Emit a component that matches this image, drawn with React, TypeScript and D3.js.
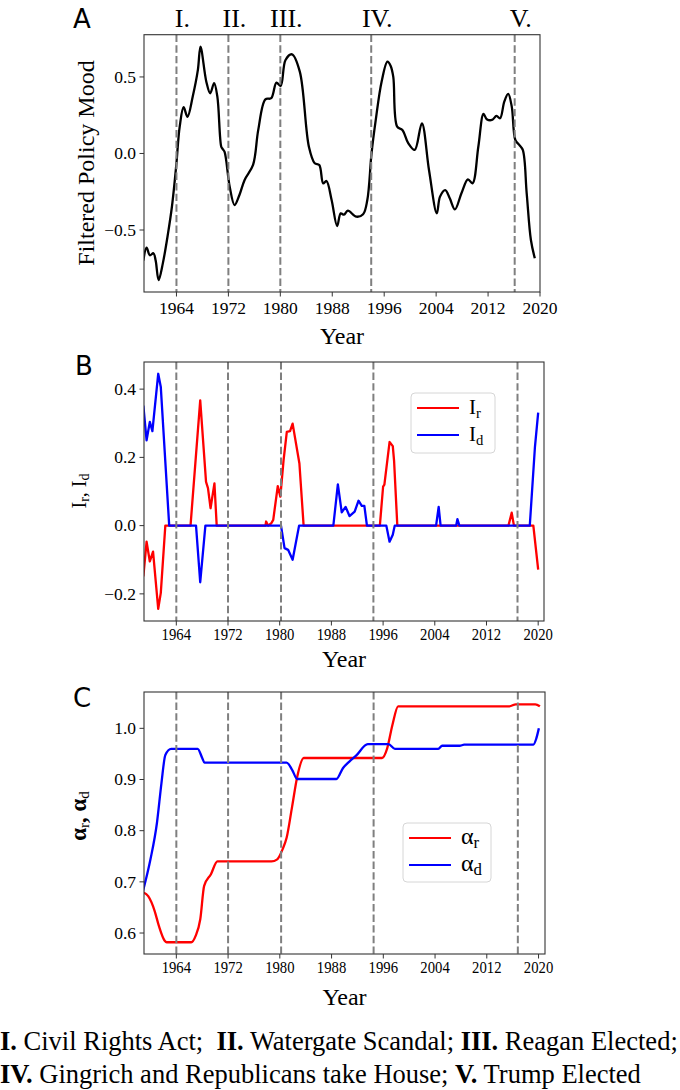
import React from 'react';
import * as d3 from 'd3';

// Panel A: filtered policy mood  [year, value]
const moodData: [number, number][] = [
  [1958.9, -0.70], [1959.4, -0.615], [1959.9, -0.665], [1960.45, -0.652], [1960.8, -0.70],
  [1961.25, -0.827], [1961.9, -0.718], [1962.7, -0.522], [1963.3, -0.348], [1963.95, -0.086],
  [1964.5, 0.175], [1965.1, 0.302], [1965.7, 0.24], [1966.5, 0.371], [1967.3, 0.546],
  [1967.7, 0.698], [1968.6, 0.469], [1969.2, 0.393], [1969.8, 0.459], [1970.3, 0.371],
  [1970.9, 0.044], [1971.1, 0.03], [1971.4, 0.012], [1972.2, -0.217], [1972.95, -0.337],
  [1973.7, -0.271], [1974.5, -0.173], [1975.8, -0.075], [1976.6, 0.154], [1977.7, 0.354],
  [1978.6, 0.361], [1979.4, 0.463], [1980.05, 0.441], [1980.8, 0.611], [1981.8, 0.648],
  [1983.0, 0.535], [1984.4, 0.044], [1985.3, -0.064], [1986.0, -0.075], [1986.6, -0.195],
  [1987.1, -0.18], [1987.9, -0.304], [1988.75, -0.474], [1989.3, -0.391], [1989.8, -0.40],
  [1990.4, -0.374], [1991.7, -0.413], [1992.75, -0.397], [1993.4, -0.304], [1994.05, 0.0],
  [1994.7, 0.219], [1995.6, 0.469], [1996.5, 0.60], [1997.0, 0.572], [1997.4, 0.50],
  [1998.0, 0.175], [1998.8, 0.154], [1999.7, 0.067], [2000.7, 0.023], [2001.8, 0.197],
  [2002.9, -0.108], [2004.1, -0.391], [2004.6, -0.282], [2005.4, -0.239], [2006.1, -0.293],
  [2006.9, -0.365], [2007.9, -0.26], [2008.9, -0.169], [2009.6, -0.195], [2010.5, 0.044],
  [2011.3, 0.258], [2011.8, 0.224], [2012.6, 0.219], [2013.3, 0.245], [2013.85, 0.23],
  [2014.5, 0.339], [2015.1, 0.389], [2015.65, 0.306], [2016.2, 0.088], [2016.8, 0.056],
  [2017.35, 0.023], [2017.95, -0.26], [2018.6, -0.565], [2019.2, -0.685],
];

// Panel B: I_r (red) and I_d (blue)
const irData: [number, number][] = [
  [1958.9, -0.149], [1959.4, -0.047], [1959.9, -0.105], [1960.4, -0.076], [1961.2, -0.244],
  [1961.6, -0.197], [1962.3, 0], [1966.2, 0], [1967.7, 0.367], [1968.6, 0.128],
  [1968.9, 0.11], [1969.3, 0.051], [1969.9, 0.124], [1970.25, 0], [1977.8, 0],
  [1977.9, 0.012], [1978.2, 0], [1978.7, 0.007], [1979.0, 0.017], [1979.7, 0.116],
  [1980.1, 0.085], [1980.6, 0.192], [1981.1, 0.275], [1981.6, 0.277], [1982.0, 0.299],
  [1983.05, 0.182], [1983.7, 0], [1995.5, 0], [1996.0, 0.114], [1996.2, 0.12],
  [1997.0, 0.245], [1997.5, 0.233], [1997.7, 0.19], [1998.2, 0], [2015.4, 0],
  [2015.9, 0.038], [2016.25, 0], [2019.25, 0], [2020.0, -0.129],
];
const idData: [number, number][] = [
  [1958.9, 0.352], [1959.4, 0.25], [1959.9, 0.304], [1960.3, 0.277], [1961.2, 0.445],
  [1961.6, 0.406], [1962.9, 0], [1967.05, 0], [1967.7, -0.166], [1968.5, 0],
  [1980.2, 0], [1980.75, -0.066], [1981.3, -0.071], [1982.0, -0.10], [1983.0, 0],
  [1988.3, 0], [1989.0, 0.121], [1989.6, 0.039], [1990.2, 0.055], [1990.8, 0.028],
  [1991.6, 0.041], [1992.2, 0.073], [1992.7, 0.058], [1993.1, 0.058], [1993.5, 0],
  [1996.5, 0], [1997.0, -0.047], [1997.5, -0.027], [1997.8, 0], [2004.2, 0],
  [2004.6, 0.055], [2004.9, 0], [2007.3, 0], [2007.5, 0.019], [2007.8, 0],
  [2018.7, 0], [2019.5, 0.231], [2020.0, 0.331],
];

// Panel C: alpha_r (red) and alpha_d (blue)
const arData: [number, number][] = [
  [1958.8, 0.68], [1959.65, 0.672], [1960.65, 0.643], [1961.3, 0.614], [1962.2, 0.585],
  [1962.5, 0.582], [1966.3, 0.582], [1967.0, 0.595], [1967.7, 0.627], [1968.3, 0.692],
  [1969.35, 0.715], [1970.35, 0.74], [1978.7, 0.74], [1979.6, 0.744], [1980.4, 0.763],
  [1981.05, 0.786], [1981.9, 0.847], [1982.7, 0.906], [1983.7, 0.942], [1995.8, 0.942],
  [1996.6, 0.961], [1997.4, 1.006], [1998.3, 1.043], [2015.5, 1.043], [2016.5, 1.047],
  [2019.5, 1.047], [2020.2, 1.043],
];
const adData: [number, number][] = [
  [1958.8, 0.68], [1960.0, 0.744], [1961.0, 0.815], [1961.7, 0.893], [1962.3, 0.948],
  [1963.2, 0.96], [1967.3, 0.96], [1968.0, 0.942], [1968.35, 0.933], [1981.05, 0.933],
  [1981.9, 0.919], [1982.7, 0.901], [1988.75, 0.901], [1989.75, 0.922], [1990.75, 0.935],
  [1991.75, 0.946], [1993.6, 0.969], [1996.8, 0.969], [1997.8, 0.96], [2004.5, 0.96],
  [2005.1, 0.966], [2007.8, 0.966], [2008.5, 0.968], [2019.2, 0.968], [2019.65, 0.98],
  [2020.05, 1.0],
];

const xTicks = [1964, 1972, 1980, 1988, 1996, 2004, 2012, 2020];
const eventLabels = ['I.', 'II.', 'III.', 'IV.', 'V.'];
const eventYearsA = [1964, 1972, 1980, 1994, 2016.1];
const eventYearsBC = [1964, 1972, 1980.2, 1994.5, 2016.8];
const yTicksA = [-0.5, 0, 0.5];
const yTicksB = [-0.2, 0, 0.2, 0.4];
const yTicksC = [0.6, 0.7, 0.8, 0.9, 1.0];

const SERIF = '"Liberation Serif", "Times New Roman", serif';
const SANS = '"DejaVu Sans", sans-serif';

const fmtTick = (v: number) => {
  const s = d3.format('.1f')(v);
  return s.startsWith('-') ? '\u2212 ' + s.slice(1) : s;
};

interface Series { data: [number, number][]; color: string; curve: d3.CurveFactory; }

interface PanelProps {
  left: number; right: number; top: number; bottom: number;
  xDomain: [number, number]; yDomain: [number, number];
  yTicks: number[]; events: number[]; series: Series[];
  condense: number; tickBase: number; titleBase: number;
}

function Panel(p: PanelProps) {
  const x = d3.scaleLinear().domain(p.xDomain).range([p.left, p.right]);
  const y = d3.scaleLinear().domain(p.yDomain).range([p.bottom, p.top]);
  const clipId = `clip-${Math.round(p.top)}`;
  return (
    <g>
      <defs>
        <clipPath id={clipId}>
          <rect x={p.left} y={p.top} width={p.right - p.left} height={p.bottom - p.top} />
        </clipPath>
      </defs>
      <g clipPath={`url(#${clipId})`}>
        {p.series.map((s, i) => {
          const line = d3.line<[number, number]>().x(d => x(d[0])).y(d => y(d[1])).curve(s.curve);
          return <path key={i} d={line(s.data) || ''} fill="none" stroke={s.color} strokeWidth={2.3} strokeLinejoin="round" />;
        })}
      </g>
      {p.events.map((e, i) => (
        <line key={i} x1={x(e)} x2={x(e)} y1={p.top} y2={p.bottom}
          stroke="#7f7f7f" strokeWidth={2} strokeDasharray="7.4,3.2" />
      ))}
      <rect x={p.left} y={p.top} width={p.right - p.left} height={p.bottom - p.top}
        fill="none" stroke="#333" strokeWidth={1.1} />
      {xTicks.map(t => (
        <g key={t}>
          <line x1={x(t)} x2={x(t)} y1={p.bottom} y2={p.bottom + 4.5} stroke="#333" strokeWidth={1} />
          <text transform={`translate(${x(t)},${p.bottom + p.tickBase}) scale(${p.condense},1)`}
            textAnchor="middle" style={{ fontFamily: SERIF }} fontSize={17.5} fill="#000">{t}</text>
        </g>
      ))}
      {p.yTicks.map(t => (
        <g key={t}>
          <line x1={p.left - 4.5} x2={p.left} y1={y(t)} y2={y(t)} stroke="#333" strokeWidth={1} />
          <text x={p.left - 8} y={y(t)} dy="0.33em" textAnchor="end"
            style={{ fontFamily: SERIF }} fontSize={17.5} fill="#000">{fmtTick(t)}</text>
        </g>
      ))}
      <text x={(p.left + p.right) / 2} y={p.bottom + p.titleBase} textAnchor="middle"
        style={{ fontFamily: SERIF }} fontSize={24} fill="#000">Year</text>
    </g>
  );
}

function Legend({ x0, y0, w, h, labels, sym, size }: { x0: number; y0: number; w: number; h: number; labels: string[]; sym: string; size: number }) {
  const colors = ['#ff0000', '#0000ff'];
  return (
    <g>
      <rect x={x0} y={y0} width={w} height={h} rx={4} fill="#fff" fillOpacity={0.8} stroke="#d6d6d6" strokeWidth={1} />
      {labels.map((l, i) => {
        const ly = y0 + 15 + i * 27;
        return (
          <g key={l}>
            <line x1={x0 + 6} x2={x0 + 48} y1={ly} y2={ly} stroke={colors[i]} strokeWidth={2.2} />
            <text x={x0 + 58} y={ly + 6} style={{ fontFamily: SERIF }} fontSize={size} fill="#000">
              {sym}<tspan fontSize={size * 0.7} dy={4}>{l}</tspan>
            </text>
          </g>
        );
      })}
    </g>
  );
}

export default function App() {
  const xA = d3.scaleLinear().domain([1959, 2020]).range([144, 540]);
  return (
    <div style={{ position: 'absolute', left: 0, top: 0 }}>
      <svg width={680} height={1090} style={{ display: 'block', background: '#fff' }}>
        {/* Panel A */}
        <text x={73} y={28} style={{ fontFamily: SANS }} fontSize={26} fill="#000">A</text>
        {eventLabels.map((l, i) => (
          <text key={l} x={xA(eventYearsA[i]) + 6} y={27} textAnchor="middle"
            style={{ fontFamily: SERIF }} fontSize={26} fill="#000">{l}</text>
        ))}
        <Panel left={144} right={540} top={34.7} bottom={292}
          xDomain={[1959, 2020]} yDomain={[-0.905, 0.776]} yTicks={yTicksA}
          events={eventYearsA} condense={1} tickBase={22} titleBase={52}
          series={[{ data: moodData, color: '#000', curve: d3.curveCatmullRom.alpha(0.5) }]} />
        <text transform="translate(94,163) rotate(-90)" textAnchor="middle"
          style={{ fontFamily: SERIF }} fontSize={24} fill="#000">Filtered Policy Mood</text>

        {/* Panel B */}
        <text x={75} y={375} style={{ fontFamily: SANS }} fontSize={26} fill="#000">B</text>
        <Panel left={144} right={544} top={362} bottom={621}
          xDomain={[1959, 2020.9]} yDomain={[-0.2795, 0.4795]} yTicks={yTicksB}
          events={eventYearsBC} condense={0.84} tickBase={19} titleBase={46}
          series={[
            { data: irData, color: '#ff0000', curve: d3.curveLinear },
            { data: idData, color: '#0000ff', curve: d3.curveLinear },
          ]} />
        <text transform="translate(86,491) rotate(-90)" textAnchor="middle"
          style={{ fontFamily: SERIF }} fontSize={20} fill="#000">
          I<tspan fontSize={14} dy={3}>r</tspan><tspan dy={-3}>, I</tspan><tspan fontSize={14} dy={3}>d</tspan>
        </text>
        <Legend x0={411} y0={393} w={84} h={60} labels={['r', 'd']} sym="I" size={21} />

        {/* Panel C */}
        <text x={73} y={707} style={{ fontFamily: SANS }} fontSize={26} fill="#000">C</text>
        <Panel left={144} right={545} top={692} bottom={954}
          xDomain={[1959, 2021]} yDomain={[0.559, 1.071]} yTicks={yTicksC}
          events={eventYearsBC} condense={0.84} tickBase={19} titleBase={51}
          series={[
            { data: arData, color: '#ff0000', curve: d3.curveMonotoneX },
            { data: adData, color: '#0000ff', curve: d3.curveMonotoneX },
          ]} />
        <text transform="translate(86,816) rotate(-90)" textAnchor="middle"
          style={{ fontFamily: SERIF }} fontSize={23} fontWeight="bold" fill="#000">
          α<tspan fontSize={15} fontWeight="normal" dy={3}>r</tspan><tspan dy={-3}>, α</tspan><tspan fontSize={15} fontWeight="normal" dy={3}>d</tspan>
        </text>
        <Legend x0={403} y0={823} w={88} h={59} labels={['r', 'd']} sym="α" size={24} />

        {/* Footer */}
        <text x={0} y={1050} style={{ fontFamily: SERIF }} fontSize={26.5} fill="#000">
          <tspan fontWeight="bold">I.</tspan> Civil Rights Act;{'\u00a0\u00a0'}<tspan fontWeight="bold">II.</tspan> Watergate Scandal; <tspan fontWeight="bold">III.</tspan> Reagan Elected;
        </text>
        <text x={0} y={1083} style={{ fontFamily: SERIF }} fontSize={26.5} fill="#000">
          <tspan fontWeight="bold">IV.</tspan> Gingrich and Republicans take House; <tspan fontWeight="bold">V.</tspan> Trump Elected
        </text>
      </svg>
    </div>
  );
}
